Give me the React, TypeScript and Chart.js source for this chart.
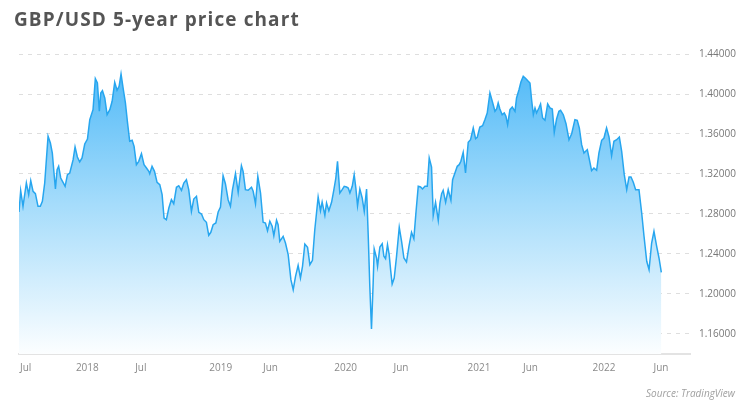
import React, { useEffect, useRef } from "react";
import { Chart, registerables } from "chart.js";

Chart.register(...registerables);

// Decimal-year dates of each weekly observation
const dates: number[] = [
  2017.471, 2017.484, 2017.502, 2017.528, 2017.546, 2017.562, 2017.58, 2017.598, 2017.618, 2017.636,
  2017.652, 2017.67, 2017.696, 2017.714, 2017.729, 2017.742, 2017.753, 2017.766, 2017.778, 2017.794,
  2017.812, 2017.828, 2017.846, 2017.864, 2017.89, 2017.905, 2017.923, 2017.941, 2017.959, 2017.98,
  2018.001, 2018.019, 2018.044, 2018.062, 2018.078, 2018.093, 2018.104, 2018.117, 2018.135, 2018.153,
  2018.174, 2018.192, 2018.212, 2018.23, 2018.246, 2018.261, 2018.277, 2018.295, 2018.31, 2018.328,
  2018.347, 2018.362, 2018.38, 2018.398, 2018.419, 2018.439, 2018.458, 2018.476, 2018.483, 2018.501,
  2018.52, 2018.54, 2018.561, 2018.579, 2018.594, 2018.612, 2018.631, 2018.651, 2018.669, 2018.69,
  2018.708, 2018.729, 2018.747, 2018.767, 2018.785, 2018.806, 2018.824, 2018.845, 2018.863, 2018.884,
  2018.902, 2018.922, 2018.94, 2018.956, 2018.974, 2018.995, 2019.013, 2019.031, 2019.051, 2019.069,
  2019.09, 2019.108, 2019.124, 2019.147, 2019.168, 2019.193, 2019.206, 2019.224, 2019.245, 2019.271,
  2019.284, 2019.302, 2019.32, 2019.341, 2019.361, 2019.379, 2019.395, 2019.413, 2019.431, 2019.444,
  2019.465, 2019.477, 2019.49, 2019.516, 2019.534, 2019.555, 2019.576, 2019.594, 2019.612, 2019.632,
  2019.65, 2019.666, 2019.684, 2019.705, 2019.723, 2019.743, 2019.761, 2019.787, 2019.805, 2019.818,
  2019.839, 2019.852, 2019.87, 2019.891, 2019.909, 2019.924, 2019.937, 2019.955, 2019.973, 2019.989,
  2020.007, 2020.02, 2020.033, 2020.051, 2020.066, 2020.079, 2020.092, 2020.11, 2020.128, 2020.144,
  2020.162, 2020.175, 2020.187, 2020.2, 2020.213, 2020.221, 2020.239, 2020.247, 2020.265, 2020.283,
  2020.296, 2020.309, 2020.324, 2020.337, 2020.348, 2020.36, 2020.376, 2020.394, 2020.415, 2020.433,
  2020.451, 2020.471, 2020.49, 2020.51, 2020.528, 2020.544, 2020.562, 2020.58, 2020.595, 2020.614,
  2020.632, 2020.647, 2020.665, 2020.678, 2020.696, 2020.717, 2020.73, 2020.743, 2020.755, 2020.774,
  2020.794, 2020.815, 2020.828, 2020.846, 2020.864, 2020.879, 2020.892, 2020.91, 2020.928, 2020.949,
  2020.967, 2020.988, 2021.006, 2021.019, 2021.039, 2021.06, 2021.078, 2021.096, 2021.117, 2021.135,
  2021.156, 2021.169, 2021.181, 2021.194, 2021.212, 2021.228, 2021.241, 2021.254, 2021.272, 2021.29,
  2021.311, 2021.323, 2021.342, 2021.357, 2021.375, 2021.396, 2021.414, 2021.427, 2021.44, 2021.453,
  2021.466, 2021.478, 2021.496, 2021.509, 2021.525, 2021.543, 2021.564, 2021.582, 2021.6, 2021.615,
  2021.633, 2021.651, 2021.664, 2021.685, 2021.706, 2021.729, 2021.75, 2021.775, 2021.793, 2021.809,
  2021.827, 2021.845, 2021.858, 2021.871, 2021.886, 2021.904, 2021.922, 2021.943, 2021.961, 2021.982,
  2022.0, 2022.02, 2022.039, 2022.059, 2022.077, 2022.098, 2022.119, 2022.137, 2022.157, 2022.176,
  2022.194, 2022.209, 2022.227, 2022.245, 2022.271, 2022.292, 2022.31, 2022.331, 2022.349, 2022.369,
  2022.387, 2022.408, 2022.426, 2022.444,
];

// GBP/USD close
const prices: number[] = [
  1.282, 1.3033, 1.2877, 1.311, 1.2993, 1.3133, 1.3027, 1.3003, 1.2877, 1.2877,
  1.2927, 1.311, 1.3577, 1.351, 1.341, 1.321, 1.305, 1.3243, 1.3277, 1.316,
  1.3117, 1.3077, 1.3193, 1.321, 1.3343, 1.347, 1.337, 1.332, 1.336, 1.35,
  1.355, 1.3743, 1.3843, 1.4153, 1.411, 1.3827, 1.401, 1.4033, 1.396, 1.3793,
  1.3843, 1.3927, 1.4117, 1.4037, 1.4077, 1.42, 1.406, 1.391, 1.3727, 1.3527,
  1.3537, 1.3477, 1.3293, 1.3327, 1.3403, 1.3293, 1.326, 1.3227, 1.3203, 1.3277,
  1.3227, 1.3117, 1.3093, 1.2993, 1.276, 1.2743, 1.286, 1.2943, 1.2903, 1.3067,
  1.3083, 1.3037, 1.311, 1.3143, 1.3043, 1.2827, 1.295, 1.2977, 1.2817, 1.28,
  1.2743, 1.2717, 1.2587, 1.2617, 1.2693, 1.271, 1.282, 1.287, 1.3183, 1.3103,
  1.2943, 1.2877, 1.3043, 1.3203, 1.3017, 1.3283, 1.3227, 1.3043, 1.3037, 1.3067,
  1.3027, 1.2903, 1.3177, 1.301, 1.2717, 1.271, 1.2633, 1.2727, 1.2677, 1.2583,
  1.2737, 1.2693, 1.2527, 1.2577, 1.251, 1.2393, 1.2143, 1.2043, 1.2177, 1.2287,
  1.216, 1.2277, 1.25, 1.2467, 1.2293, 1.2337, 1.2643, 1.297, 1.2833, 1.292,
  1.2787, 1.291, 1.2833, 1.2917, 1.3043, 1.316, 1.3327, 1.301, 1.3043, 1.3077,
  1.307, 1.306, 1.301, 1.3077, 1.3193, 1.306, 1.2883, 1.305, 1.296, 1.2827,
  1.305, 1.2577, 1.2077, 1.165, 1.211, 1.245, 1.236, 1.2277, 1.247, 1.2503,
  1.2377, 1.2353, 1.2493, 1.2393, 1.2243, 1.21, 1.216, 1.2377, 1.2667, 1.2527,
  1.236, 1.232, 1.2477, 1.2617, 1.2553, 1.281, 1.3077, 1.307, 1.305, 1.3077,
  1.3077, 1.336, 1.327, 1.2787, 1.2917, 1.2737, 1.291, 1.3003, 1.3037, 1.2917,
  1.3043, 1.2937, 1.3143, 1.321, 1.3277, 1.3293, 1.3327, 1.3417, 1.321, 1.3517,
  1.3543, 1.366, 1.3553, 1.3567, 1.367, 1.3683, 1.3743, 1.381, 1.401, 1.3927,
  1.3827, 1.385, 1.391, 1.385, 1.3793, 1.381, 1.3777, 1.3693, 1.3843, 1.387,
  1.3827, 1.396, 1.4043, 1.412, 1.4177, 1.4153, 1.4127, 1.411, 1.3937, 1.3793,
  1.386, 1.381, 1.386, 1.39, 1.376, 1.3737, 1.39, 1.386, 1.385, 1.3617,
  1.375, 1.3827, 1.3837, 1.3793, 1.3703, 1.3543, 1.3603, 1.3743, 1.3737, 1.366,
  1.3493, 1.341, 1.3427, 1.3443, 1.335, 1.3233, 1.326, 1.3237, 1.341, 1.3537,
  1.356, 1.366, 1.357, 1.3383, 1.3527, 1.3543, 1.357, 1.3427, 1.3193, 1.3043,
  1.317, 1.317, 1.3117, 1.3043, 1.3043, 1.281, 1.2577, 1.2327, 1.2243, 1.251,
  1.2627, 1.2477, 1.236, 1.2217,
];

// X-axis tick dates and labels
const xTickDates: number[] = [2017.523, 2018.0, 2018.414, 2019.033, 2019.418, 2020.0, 2020.428, 2021.032, 2021.431, 2022.0, 2022.441];
const xTickLabels: string[] = ["Jul", "2018", "Jul", "2019", "Jun", "2020", "Jun", "2021", "Jun", "2022", "Jun"];

// Y-axis ticks
const yTicks: number[] = [1.16, 1.2, 1.24, 1.28, 1.32, 1.36, 1.4, 1.44];

const TITLE = "GBP/USD 5-year price chart";
const SOURCE = "Source: TradingView";

export default function App() {
  const canvasRef = useRef<HTMLCanvasElement | null>(null);

  useEffect(() => {
    const canvas = canvasRef.current;
    if (!canvas) return;
    const chart = new Chart(canvas, {
      type: "line",
      data: {
        datasets: [
          {
            data: dates.map((d, i) => ({ x: d, y: prices[i] })),
            borderColor: "#27a6ef",
            borderWidth: 1.5,
            pointRadius: 0,
            tension: 0,
            fill: "start",
            backgroundColor: (ctx: any) => {
              const area = ctx.chart.chartArea;
              if (!area) return "rgba(90,190,248,0.8)";
              const g = ctx.chart.ctx.createLinearGradient(0, area.top, 0, area.bottom);
              g.addColorStop(0, "rgb(72,182,247)");
              g.addColorStop(0.5, "rgb(165,220,251)");
              g.addColorStop(1, "rgb(252,254,255)");
              return g;
            },
          },
        ],
      },
      options: {
        animation: false,
        responsive: false,
        maintainAspectRatio: false,
        layout: { padding: { left: 19, top: 54, right: 0, bottom: 0 } },
        plugins: {
          legend: { display: false },
          tooltip: { enabled: false },
          title: { display: false },
        },
        scales: {
          x: {
            type: "linear",
            min: 2017.471,
            max: 2022.666,
            afterBuildTicks: (scale: any) => {
              scale.ticks = xTickDates.map((v) => ({ value: v }));
            },
            afterFit: (scale: any) => {
              scale.height = 62;
            },
            grid: { display: false, drawTicks: false },
            border: { display: true, color: "#e3e3e3", width: 2 },
            ticks: {
              autoSkip: false,
              maxRotation: 0,
              padding: 8,
              color: "#8a8a8a",
              font: { family: "Open Sans", size: 10 },
              callback: (v: any) => {
                const i = xTickDates.indexOf(Number(v));
                return i >= 0 ? xTickLabels[i] : "";
              },
            },
          },
          y: {
            type: "linear",
            position: "right",
            min: 1.14,
            max: 1.44,
            z: 1,
            afterBuildTicks: (scale: any) => {
              scale.ticks = yTicks.map((v) => ({ value: v }));
            },
            afterFit: (scale: any) => {
              scale.width = 60;
            },
            grid: {
              display: true,
              drawTicks: false,
              color: "#dedede",
              lineWidth: 1,
            },
            border: { display: false, dash: [4, 5] },
            ticks: {
              padding: 9,
              color: "#777777",
              font: { family: "Open Sans", size: 10 },
              callback: (v: any) => Number(v).toFixed(5),
            },
          },
        },
      },
    } as any);
    return () => chart.destroy();
  }, []);

  return (
    <div style={{ position: "absolute", left: 0, top: 0, width: 750, height: 416, background: "#ffffff", overflow: "hidden" }}>
      <canvas ref={canvasRef} width={750} height={416} style={{ position: "absolute", left: 0, top: 0, width: 750, height: 416 }} />
      <div
        style={{
          position: "absolute",
          left: 14,
          top: 6,
          fontFamily: "'Open Sans', sans-serif",
          fontWeight: 700,
          fontSize: 19,
          letterSpacing: "1.1px",
          lineHeight: "26px",
          color: "#555555",
          whiteSpace: "nowrap",
        }}
      >
        {TITLE}
      </div>
      <div
        style={{
          position: "absolute",
          right: 15,
          top: 386,
          fontFamily: "'Open Sans', sans-serif",
          fontStyle: "italic",
          fontSize: 10,
          lineHeight: "14px",
          color: "#a0a0a0",
          whiteSpace: "nowrap",
        }}
      >
        {SOURCE}
      </div>
    </div>
  );
}
